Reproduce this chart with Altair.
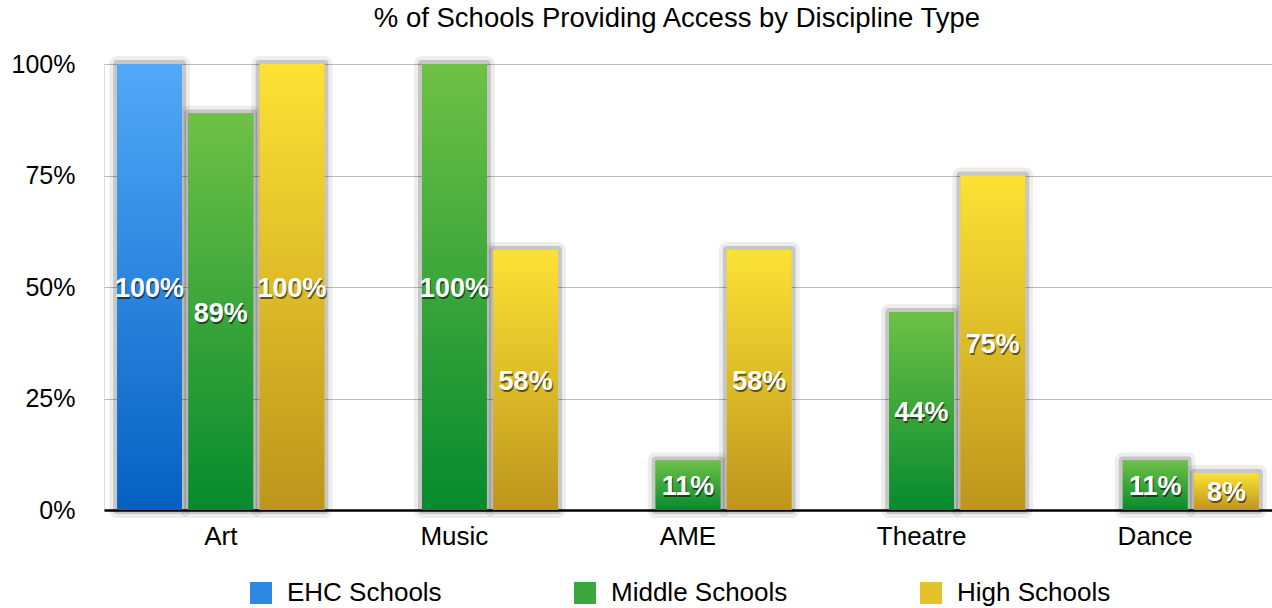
import altair as alt
import pandas as pd

categories = ["Art", "Music", "AME", "Theatre", "Dance"]
series = ["EHC Schools", "Middle Schools", "High Schools"]
ehc = [100, None, None, None, None]
middle = [88.9, 100, 11.1, 44.4, 11.1]
high = [100, 58.3, 58.3, 75, 8.3]
solid_colors = ["#2E88E2", "#3CA83B", "#E3C32A"]
grad_stops = {
    "EHC Schools": ("#52A9F9", "#0560C1"),
    "Middle Schools": ("#6FC146", "#068A2E"),
    "High Schools": ("#FCE234", "#BD951C"),
}

rows = []
for i, c in enumerate(categories):
    for s, vals in zip(series, [ehc, middle, high]):
        v = vals[i]
        if v is not None:
            rows.append({"cat": c, "series": s, "value": v, "label": f"{round(v)}%"})
df = pd.DataFrame(rows)

FONT = "Liberation Sans"
x_enc = alt.X("cat:N", sort=categories, title=None,
              scale=alt.Scale(paddingInner=0, paddingOuter=0),
              axis=alt.Axis(labelFontSize=26, labelFont=FONT, labelColor="#000",
                            labelAngle=0, ticks=False, labelPadding=13,
                            domainColor="#000", domainWidth=2.5, grid=False))
xo_enc = alt.XOffset("series:N", sort=series,
                     scale=alt.Scale(domain=series, paddingInner=0.09, paddingOuter=0.185))
y_enc = alt.Y("value:Q", title=None,
              scale=alt.Scale(domain=[0, 100], nice=False),
              axis=alt.Axis(values=[0, 25, 50, 75, 100], labelExpr="datum.value + '%'",
                            labelFontSize=25, labelFont=FONT, labelColor="#000",
                            ticks=False, domain=False, labelPadding=29,
                            gridColor="#BBBBBB", gridWidth=1))

base = alt.Chart(df)

shadow1 = base.mark_bar(fillOpacity=0.0, stroke="#000",
                        strokeOpacity=0.07, strokeWidth=16, strokeJoin="round").encode(
    x=x_enc, xOffset=xo_enc, y=y_enc)
shadow2 = base.mark_bar(fillOpacity=0.0, stroke="#000",
                        strokeOpacity=0.16, strokeWidth=8, strokeJoin="round").encode(
    x=x_enc, xOffset=xo_enc, y=y_enc)

legend_bars = base.mark_bar().encode(
    x=x_enc, xOffset=xo_enc, y=y_enc,
    color=alt.Color("series:N", sort=series,
                    scale=alt.Scale(domain=series, range=solid_colors),
                    legend=alt.Legend(title=None, orient="none", legendX=144, legendY=516,
                                      direction="horizontal", symbolType="square",
                                      symbolSize=484, symbolStrokeWidth=0,
                                      labelFontSize=26, labelFont=FONT, labelColor="#000",
                                      labelOffset=13, labelLimit=400, columnPadding=130)))

grad_layers = []
for s in series:
    top, bot = grad_stops[s]
    grad = alt.LinearGradient(gradient="linear", x1=0, y1=0, x2=0, y2=1,
                              stops=[alt.GradientStop(color=top, offset=0),
                                     alt.GradientStop(color=bot, offset=1)])
    grad_layers.append(
        base.transform_filter(alt.datum.series == s).mark_bar(color=grad).encode(
            x=x_enc, xOffset=xo_enc, y=y_enc))

TFONT = "Liberation Sans"
text_shadow = base.transform_calculate(mid="datum.value / 2").mark_text(
    font=TFONT, fontSize=27, fontWeight="bold", color="#000", opacity=0.55,
    dx=1, dy=4, baseline="middle").encode(
    x=x_enc, xOffset=xo_enc, y=alt.Y("mid:Q"), text="label:N")
text = base.transform_calculate(mid="datum.value / 2").mark_text(
    font=TFONT, fontSize=27, fontWeight="bold", color="#FFFFFF",
    dy=2, baseline="middle").encode(
    x=x_enc, xOffset=xo_enc, y=alt.Y("mid:Q"), text="label:N")

chart = alt.layer(shadow1, shadow2, legend_bars, *grad_layers, text_shadow, text).properties(
    width=1168, height=446,
    autosize=alt.AutoSizeParams(type="none"),
    padding={"left": 104, "top": 64, "right": 0, "bottom": 98},
    title=alt.TitleParams("% of Schools Providing Access by Discipline Type",
                          fontSize=27.5, font=FONT, fontWeight="normal", color="#000",
                          offset=20, anchor="middle", dx=-11),
).configure_view(stroke=None).configure(background="#FFFFFF")

chart.save("out.html", embed_options={"renderer": "svg", "actions": False})
